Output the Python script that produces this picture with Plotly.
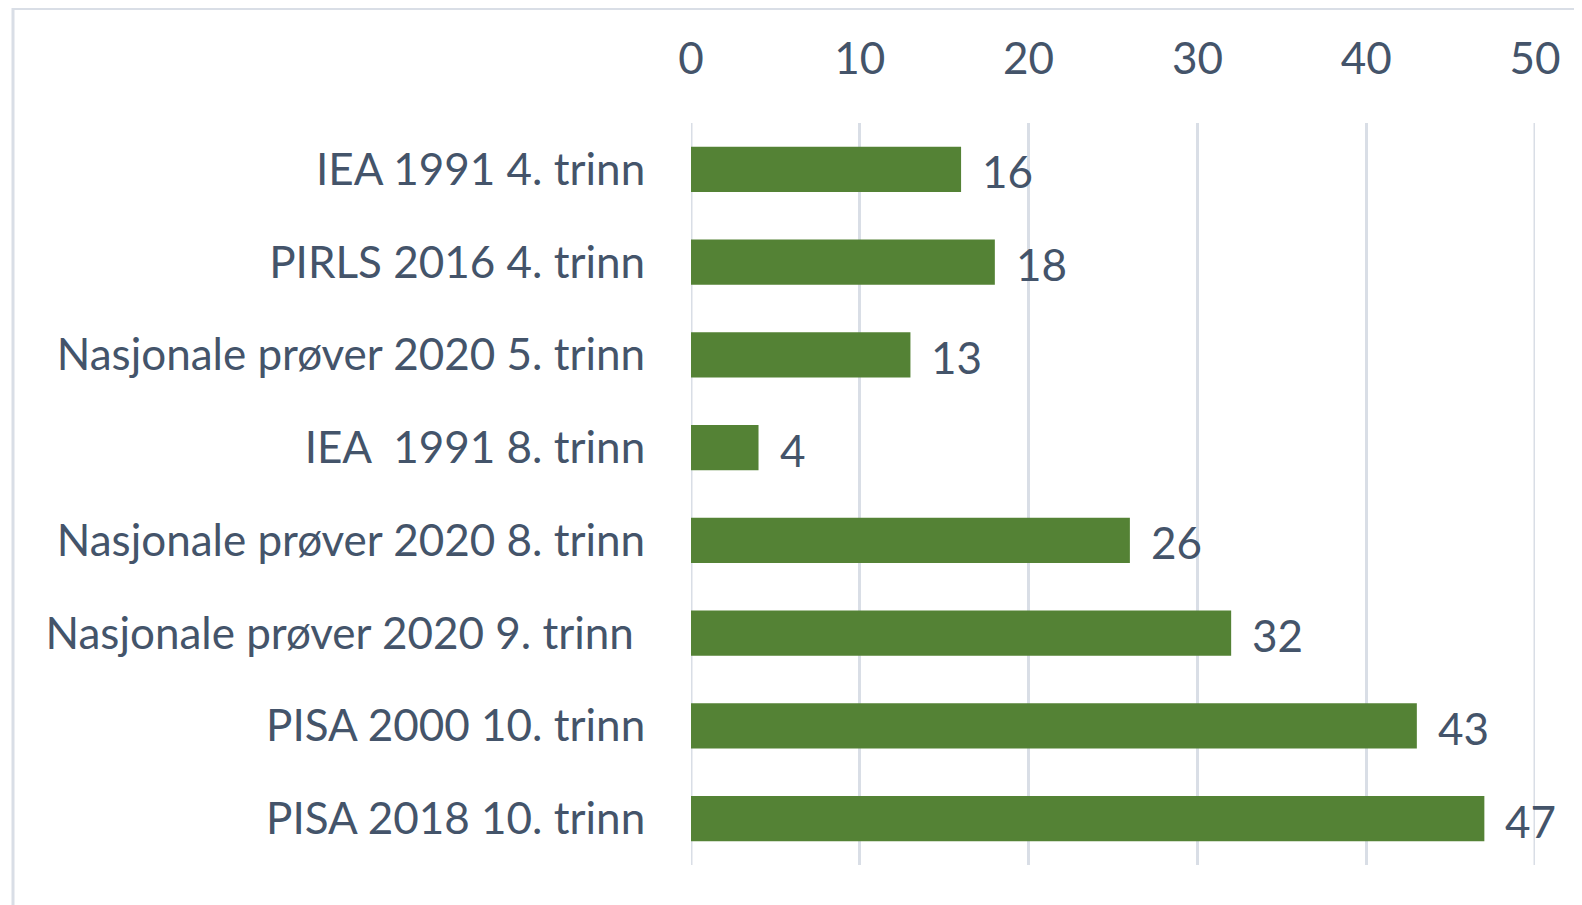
import plotly.graph_objects as go

categories = [
    "IEA 1991 4. trinn",
    "PIRLS 2016 4. trinn",
    "Nasjonale prøver 2020 5. trinn",
    "IEA\u00a0\u00a01991 8. trinn",
    "Nasjonale prøver 2020 8. trinn",
    "Nasjonale prøver 2020 9. trinn\u00a0",
    "PISA 2000 10. trinn",
    "PISA 2018 10. trinn",
]
values = [16, 18, 13, 4, 26, 32, 43, 47]
tick_vals = [0, 10, 20, 30, 40, 50]

TEXT = "#44546A"
FONT = "Lato"
BAR = "#548235"
GRID = "#D9DEE6"
FS = 44

fig = go.Figure()
fig.add_trace(go.Bar(
    y=categories, x=values, orientation="h",
    marker=dict(color=BAR, line=dict(width=0)),
    width=0.49,
    hoverinfo="x+y",
))

for c, v in zip(categories, values):
    fig.add_annotation(x=v, y=c, text=str(v), showarrow=False,
                       xanchor="left", yanchor="middle", xshift=19, yshift=-2,
                       font=dict(family=FONT, size=FS, color=TEXT))

# gridlines at the range edges (plotly hides them there)
for tv in (tick_vals[0], tick_vals[-1]):
    fig.add_shape(type="line", xref="x", yref="paper", x0=tv, x1=tv, y0=0, y1=1,
                  line=dict(color=GRID, width=3), layer="below")

# page has an 8px body margin; compensate
OFF = 8
W, H = 1582, 905
L, R, T, B = 691 - OFF, W - 1535 + OFF, 123 - OFF, H - 865 + OFF
pw, ph = W - L - R, H - T - B
fig.add_shape(type="rect", xref="paper", yref="paper",
              x0=(5 - L) / pw, x1=(1800 - L) / pw,
              y0=-(1200 - (H - B)) / ph, y1=1 + (T - 0.5) / ph,
              line=dict(color=GRID, width=3), layer="below")

fig.update_layout(
    width=W, height=H,
    margin=dict(l=L, r=R, t=T, b=B),
    paper_bgcolor="white", plot_bgcolor="white",
    showlegend=False,
    font=dict(family=FONT, color=TEXT, size=FS),
    xaxis=dict(side="top", range=[0, 50], tickvals=tick_vals,
               showgrid=True, gridcolor=GRID, gridwidth=3,
               zeroline=False, showline=False,
               ticks="outside", ticklen=30, tickcolor="rgba(0,0,0,0)",
               tickfont=dict(family=FONT, size=FS, color=TEXT)),
    yaxis=dict(autorange="reversed", showgrid=False, zeroline=False,
               showline=False, ticks="outside", ticklen=36,
               tickcolor="rgba(0,0,0,0)",
               tickfont=dict(family=FONT, size=FS, color=TEXT)),
    bargap=0.51,
)

fig.write_html("out.html")
